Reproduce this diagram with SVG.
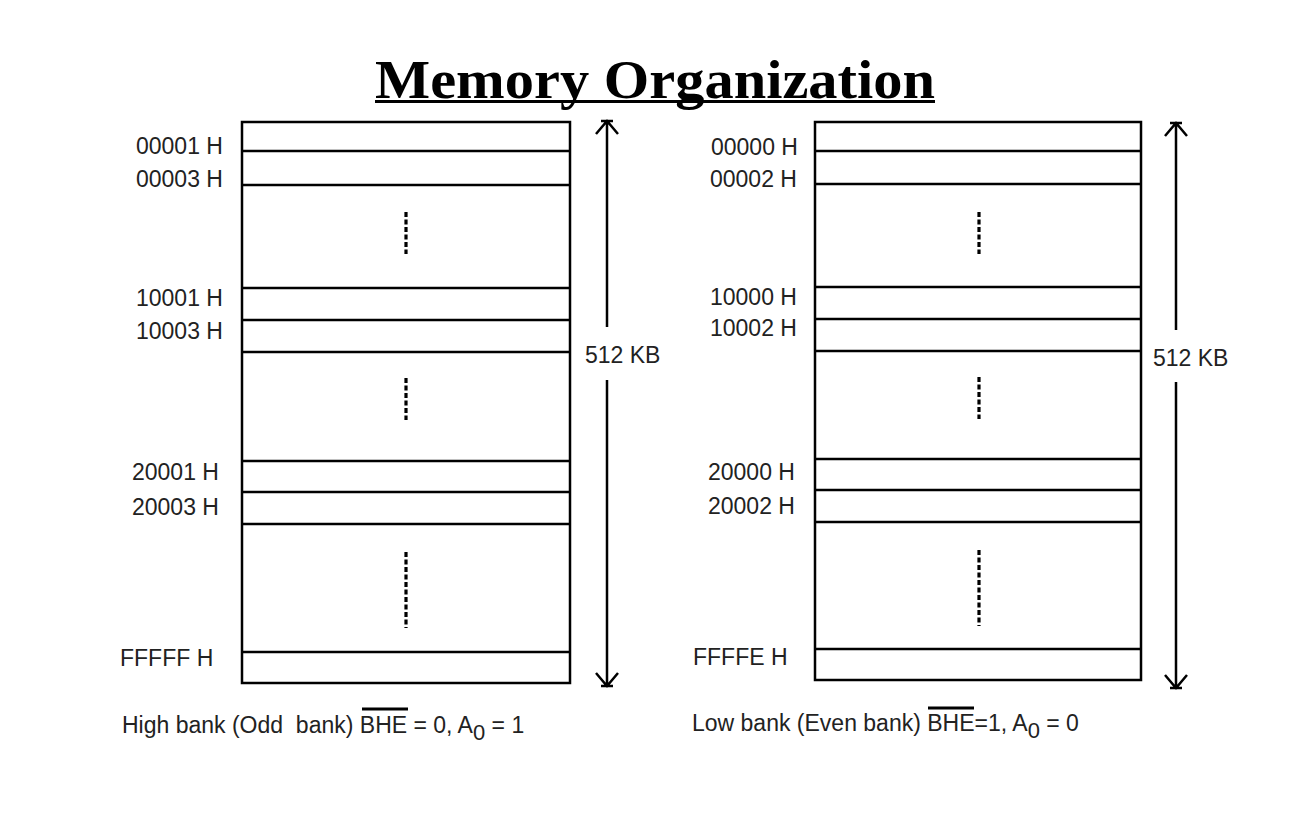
<svg xmlns="http://www.w3.org/2000/svg" width="1314" height="826" viewBox="0 0 1314 826">
<style>
.box{fill:none;stroke:#000;stroke-width:2.5}
.row{stroke:#000;stroke-width:2.5}
.dash{stroke:#000;stroke-width:3.2;stroke-dasharray:5 2.5}
.arr{stroke:#000;stroke-width:2.5;fill:none}
.ovl{stroke:#000;stroke-width:3}
.lbl{font-family:"Liberation Sans",Arial,sans-serif;font-size:23px;fill:#222}
.cap{font-family:"Liberation Sans",Arial,sans-serif;font-size:23px;fill:#222;white-space:pre}
.title{font-family:"Liberation Serif","Times New Roman",serif;font-weight:bold;font-size:54px;fill:#000}
</style>
<rect width="1314" height="826" fill="#fff"/>
<g id="title">
<text class="title" x="375" y="98" textLength="560" lengthAdjust="spacingAndGlyphs">Memory Organization</text>
<line x1="375" y1="101.5" x2="935" y2="101.5" stroke="#000" stroke-width="3"/>
</g>
<g id="high-bank">
<rect class="box" x="242" y="122" width="328" height="561"/>
<line class="row" x1="242" y1="151" x2="570" y2="151"/>
<line class="row" x1="242" y1="185" x2="570" y2="185"/>
<line class="row" x1="242" y1="288" x2="570" y2="288"/>
<line class="row" x1="242" y1="320" x2="570" y2="320"/>
<line class="row" x1="242" y1="352" x2="570" y2="352"/>
<line class="row" x1="242" y1="461" x2="570" y2="461"/>
<line class="row" x1="242" y1="492" x2="570" y2="492"/>
<line class="row" x1="242" y1="524" x2="570" y2="524"/>
<line class="row" x1="242" y1="652" x2="570" y2="652"/>
<line class="dash" x1="406" y1="212" x2="406" y2="254"/>
<line class="dash" x1="406" y1="378" x2="406" y2="420"/>
<line class="dash" x1="406" y1="552" x2="406" y2="628"/>
<text class="lbl" x="136" y="154">00001 H</text>
<text class="lbl" x="136" y="187">00003 H</text>
<text class="lbl" x="136" y="306">10001 H</text>
<text class="lbl" x="136" y="339">10003 H</text>
<text class="lbl" x="132" y="480">20001 H</text>
<text class="lbl" x="132" y="515">20003 H</text>
<text class="lbl" x="120" y="666">FFFFF H</text>
<text class="cap" x="122" y="733">High bank (Odd  bank) BHE = 0, A<tspan dy="7" font-size="22">0</tspan><tspan dy="-7"> = 1</tspan></text>
<line class="ovl" x1="362" y1="709" x2="408" y2="709"/>
</g>
<g id="low-bank">
<rect class="box" x="815" y="122" width="326" height="558"/>
<line class="row" x1="815" y1="151" x2="1141" y2="151"/>
<line class="row" x1="815" y1="184" x2="1141" y2="184"/>
<line class="row" x1="815" y1="287" x2="1141" y2="287"/>
<line class="row" x1="815" y1="319" x2="1141" y2="319"/>
<line class="row" x1="815" y1="351" x2="1141" y2="351"/>
<line class="row" x1="815" y1="459" x2="1141" y2="459"/>
<line class="row" x1="815" y1="490" x2="1141" y2="490"/>
<line class="row" x1="815" y1="522" x2="1141" y2="522"/>
<line class="row" x1="815" y1="649" x2="1141" y2="649"/>
<line class="dash" x1="979" y1="212" x2="979" y2="254"/>
<line class="dash" x1="979" y1="377" x2="979" y2="419"/>
<line class="dash" x1="979" y1="550" x2="979" y2="626"/>
<text class="lbl" x="711" y="155">00000 H</text>
<text class="lbl" x="710" y="187">00002 H</text>
<text class="lbl" x="710" y="305">10000 H</text>
<text class="lbl" x="710" y="336">10002 H</text>
<text class="lbl" x="708" y="480">20000 H</text>
<text class="lbl" x="708" y="514">20002 H</text>
<text class="lbl" x="693" y="665">FFFFE H</text>
<text class="cap" x="692" y="731">Low bank (Even bank) BHE=1, A<tspan dy="7" font-size="22">0</tspan><tspan dy="-7"> = 0</tspan></text>
<line class="ovl" x1="928" y1="708" x2="974" y2="708"/>
</g>
<g id="connectors">
<path class="arr" d="M607 121 V327 M607 380 V686 M596 134 L607 121 L618 134 M596 673 L607 686 L618 673 M601 121 H613 M601 686 H613"/>
<text class="lbl" x="585" y="363">512 KB</text>
<path class="arr" d="M1176 123 V330 M1176 382 V688 M1165 136 L1176 123 L1187 136 M1165 675 L1176 688 L1187 675 M1170 123 H1182 M1170 688 H1182"/>
<text class="lbl" x="1153" y="366">512 KB</text>
</g>
</svg>
